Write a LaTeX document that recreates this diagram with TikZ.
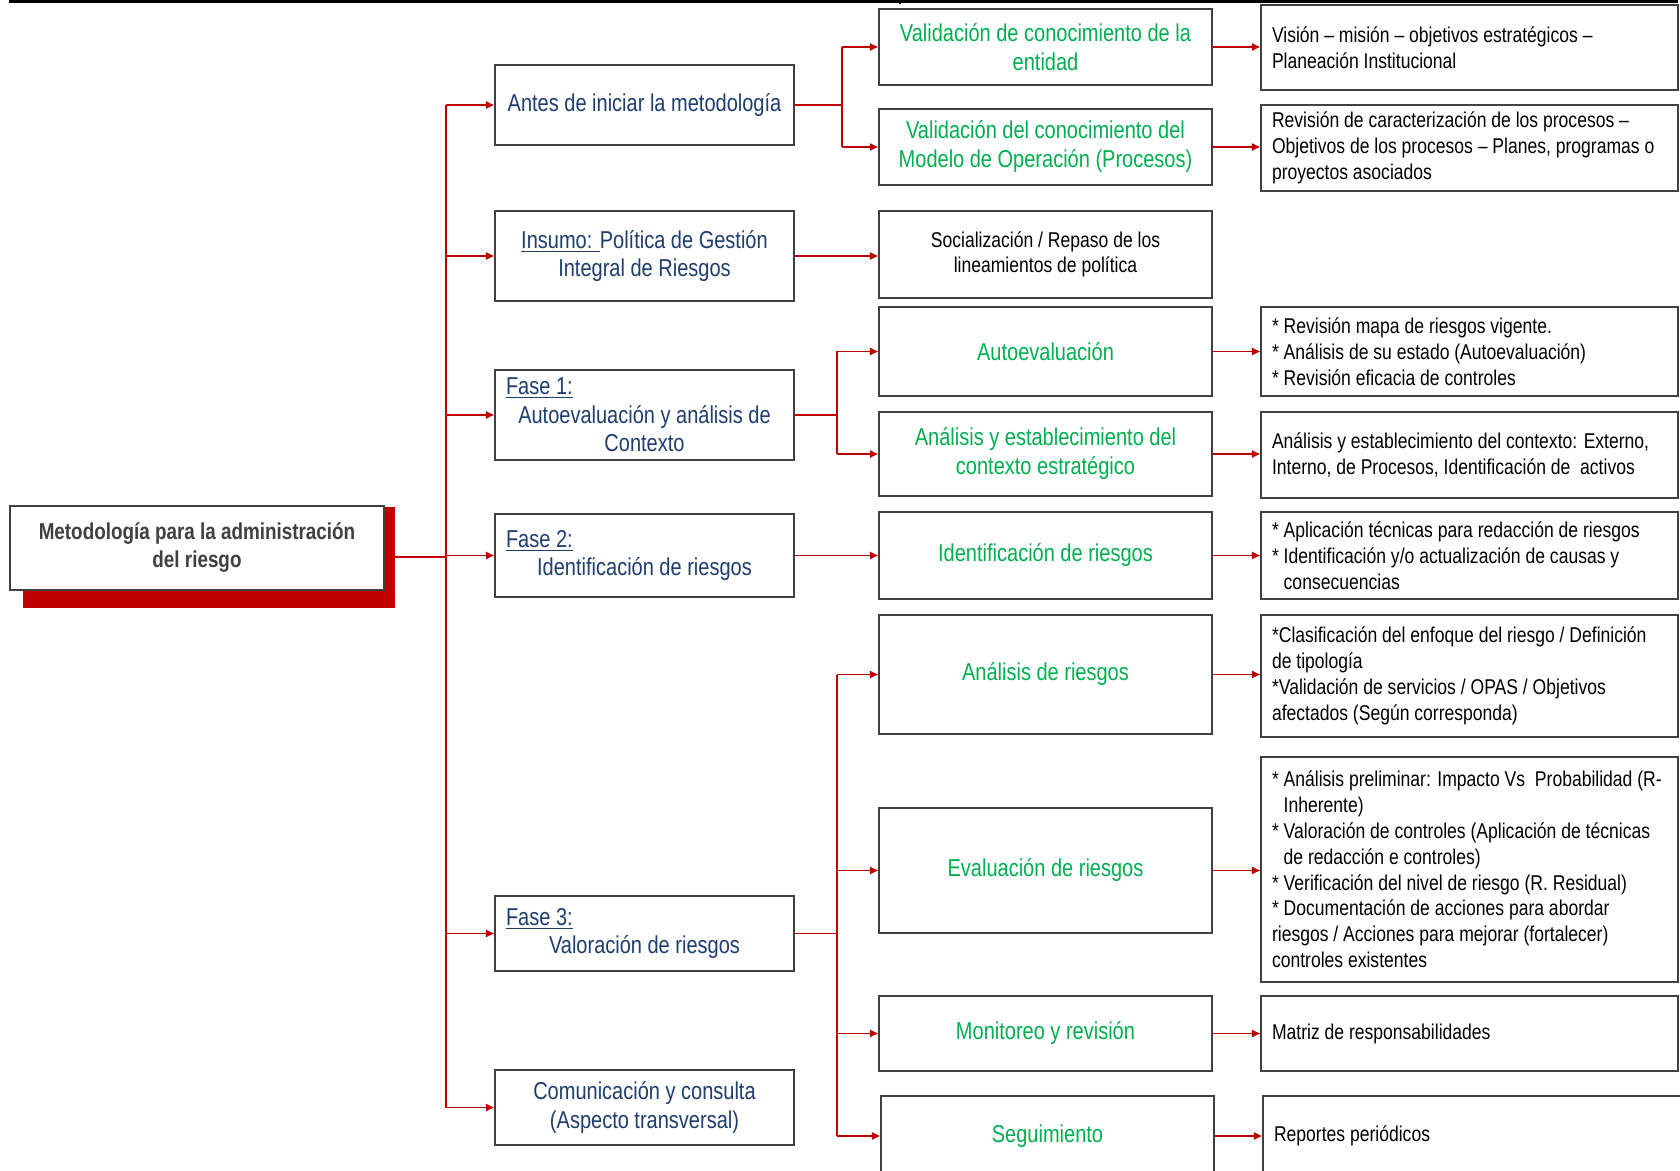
\documentclass[tikz,border=0pt]{standalone}
\usepackage{fontspec}
\setmainfont{Liberation Sans}[FakeStretch=0.82]
\usetikzlibrary{arrows.meta,calc}
\definecolor{cred}{RGB}{192,0,0}
\definecolor{cbord}{RGB}{64,64,64}
\definecolor{cblue}{RGB}{31,62,110}
\definecolor{cgreen}{RGB}{0,176,80}
\definecolor{croot}{RGB}{64,64,64}
\begin{document}
\begin{tikzpicture}[x=0.5pt,y=-0.5pt,
  box/.style={draw=cbord, line width=1.1pt, fill=white, inner ysep=2pt},
  rootbox/.style={box, align=center, minimum width=187pt, minimum height=42pt, text=croot, font=\bfseries\fontsize{11.5pt}{14pt}\selectfont},
  lone/.style={box, align=center, minimum width=149.5pt, text=cblue, font=\fontsize{12.2pt}{14.3pt}\selectfont},
  fasebox/.style={lone, text width=138.5pt, inner xsep=5.5pt, align=flush center},
  ltwo/.style={box, align=center, minimum width=166.5pt, text=cgreen, font=\fontsize{12.2pt}{14.5pt}\selectfont},
  lthree/.style={box, align=flush left, text width=197.5pt, inner xsep=5.5pt, text=black, font=\fontsize{10.7pt}{12.9pt}\selectfont},
  conn/.style={draw=cred, line width=0.7pt},
  arr/.style={conn, -{Triangle[length=4pt,width=3.6pt]}},
]
\useasboundingbox (0,0) rectangle (1680,1171);

% top frame remnant
\draw[line width=1.4pt] (10,-4) -- (10,1.5) -- (1677,1.5) -- (1677,-4);
\draw[line width=0.6pt] (900,0) -- (900,4);

% root with red shadow
\fill[cred] (23,507) rectangle (395,608);
\node[rootbox] (root) at (197,548) {Metodología para la administración\\del riesgo};

% level 1
\node[lone, minimum height=40pt] (antes) at (644.5,105) {Antes de iniciar la metodología};
\node[lone, minimum height=45pt] (insumo) at (644.5,256) {\underline{Insumo: }Política de Gestión\\Integral de Riesgos};
\node[fasebox, minimum height=45pt] (fase1) at (644.5,415) {\underline{Fase 1:}\hfill\mbox{}\\Autoevaluación y análisis de\\Contexto};
\node[fasebox, minimum height=41.5pt] (fase2) at (644.5,555.5) {\underline{Fase 2:}\hfill\mbox{}\\Identificación de riesgos};
\node[fasebox, minimum height=37.5pt] (fase3) at (644.5,933.5) {\underline{Fase 3:}\hfill\mbox{}\\Valoración de riesgos};
\node[lone, minimum height=37.5pt] (comun) at (644.5,1107.5) {Comunicación y consulta\\(Aspecto transversal)};

% level 2
\node[ltwo, minimum height=38pt] (valent) at (1045.5,47) {Validación de conocimiento de la\\entidad};
\node[ltwo, minimum height=38pt] (valmod) at (1045.5,147) {Validación del conocimiento del\\Modelo de Operación (Procesos)};
\node[ltwo, minimum height=43.5pt, text=black, font=\fontsize{10.7pt}{12.3pt}\selectfont] (social) at (1045.5,254.5) {Socialización / Repaso de los\\lineamientos de política};
\node[ltwo, minimum height=44.5pt] (autoev) at (1045.5,351.5) {Autoevaluación};
\node[ltwo, minimum height=42pt] (analctx) at (1045.5,454) {Análisis y establecimiento del\\contexto estratégico};
\node[ltwo, minimum height=43.5pt] (ident) at (1045.5,555.5) {Identificación de riesgos};
\node[ltwo, minimum height=59.5pt] (analr) at (1045.5,674.5) {Análisis de riesgos};
\node[ltwo, minimum height=62.5pt] (evalr) at (1045.5,870.5) {Evaluación de riesgos};
\node[ltwo, minimum height=37.5pt] (monit) at (1045.5,1033.5) {Monitoreo y revisión};
\node[ltwo, minimum height=40pt] (segui) at (1047.5,1136) {Seguimiento};

% level 3
\node[lthree, minimum height=42.5pt] (vision) at (1469.5,47.5) {Visión – misión – objetivos estratégicos –\\Planeación Institucional};
\node[lthree, minimum height=43pt] (revcar) at (1469.5,148) {Revisión de caracterización de los procesos –\\Objetivos de los procesos – Planes, programas o\\proyectos asociados};
\node[lthree, minimum height=44.5pt] (revmapa) at (1469.5,351.5) {* Revisión mapa de riesgos vigente.\\{}* Análisis de su estado (Autoevaluación)\\{}* Revisión eficacia de controles};
\node[lthree, minimum height=43pt] (anctx3) at (1469.5,455) {Análisis y establecimiento del contexto: Externo,\\Interno, de Procesos, Identificación de\ \ activos};
\node[lthree, minimum height=43.5pt] (aplic) at (1469.5,555.5) {* Aplicación técnicas para redacción de riesgos\\{}* Identificación y/o actualización de causas y\\\phantom{* }consecuencias};
\node[lthree, minimum height=61pt] (clasif) at (1469.5,676) {*Clasificación del enfoque del riesgo / Definición\\de tipología\\{}*Validación de servicios / OPAS / Objetivos\\afectados (Según corresponda)};
\node[lthree, minimum height=112.5pt] (anprel) at (1469.5,869.5) {* Análisis preliminar: Impacto Vs\ \ Probabilidad (R-\\\phantom{* }Inherente)\\{}* Valoración de controles (Aplicación de técnicas\\\phantom{* }de redacción e controles)\\{}* Verificación del nivel de riesgo (R. Residual)\\{}* Documentación de acciones para abordar\\riesgos / Acciones para mejorar (fortalecer)\\controles existentes};
\node[lthree, minimum height=37.5pt] (matriz) at (1469.5,1033.5) {Matriz de responsabilidades};
\node[lthree, minimum height=40pt, text width=202.5pt] (reportes) at (1476.5,1136) {Reportes periódicos};

% trunk from root
\coordinate (t) at (446,557);
\draw[conn, line width=1pt] (root.east |- t) -- (t);
\draw[conn] (t |- antes.west) -- (t |- comun.west);
\foreach \n in {antes,insumo,fase1,fase2,fase3,comun}
  \draw[arr] (t |- \n.west) -- (\n.west);

% antes branch
\coordinate (b1) at (842,105);
\draw[conn] (antes.east) -- (b1);
\draw[conn] (b1 |- valent.west) -- (b1 |- valmod.west);
\draw[arr] (b1 |- valent.west) -- (valent.west);
\draw[arr] (b1 |- valmod.west) -- (valmod.west);

% insumo
\draw[arr] (insumo.east) -- (insumo.east -| social.west);

% fase 1 branch
\coordinate (b2) at (837,415);
\draw[conn] (fase1.east) -- (b2);
\draw[conn] (b2 |- autoev.west) -- (b2 |- analctx.west);
\draw[arr] (b2 |- autoev.west) -- (autoev.west);
\draw[arr] (b2 |- analctx.west) -- (analctx.west);

% fase 2
\draw[arr] (fase2.east) -- (ident.west);

% fase 3 branch
\coordinate (b3) at (837,933.5);
\draw[conn] (fase3.east) -- (b3);
\draw[conn] (b3 |- analr.west) -- (b3 |- segui.west);
\foreach \n in {analr,evalr,monit,segui}
  \draw[arr] (b3 |- \n.west) -- (\n.west);

% level 2 -> level 3
\draw[arr] (valent.east) -- (valent.east -| vision.west);
\draw[arr] (valmod.east) -- (valmod.east -| revcar.west);
\draw[arr] (autoev.east) -- (autoev.east -| revmapa.west);
\draw[arr] (analctx.east) -- (analctx.east -| anctx3.west);
\draw[arr] (ident.east) -- (ident.east -| aplic.west);
\draw[arr] (analr.east) -- (analr.east -| clasif.west);
\draw[arr] (evalr.east) -- (evalr.east -| anprel.west);
\draw[arr] (monit.east) -- (monit.east -| matriz.west);
\draw[arr] (segui.east) -- (segui.east -| reportes.west);
\end{tikzpicture}
\end{document}
